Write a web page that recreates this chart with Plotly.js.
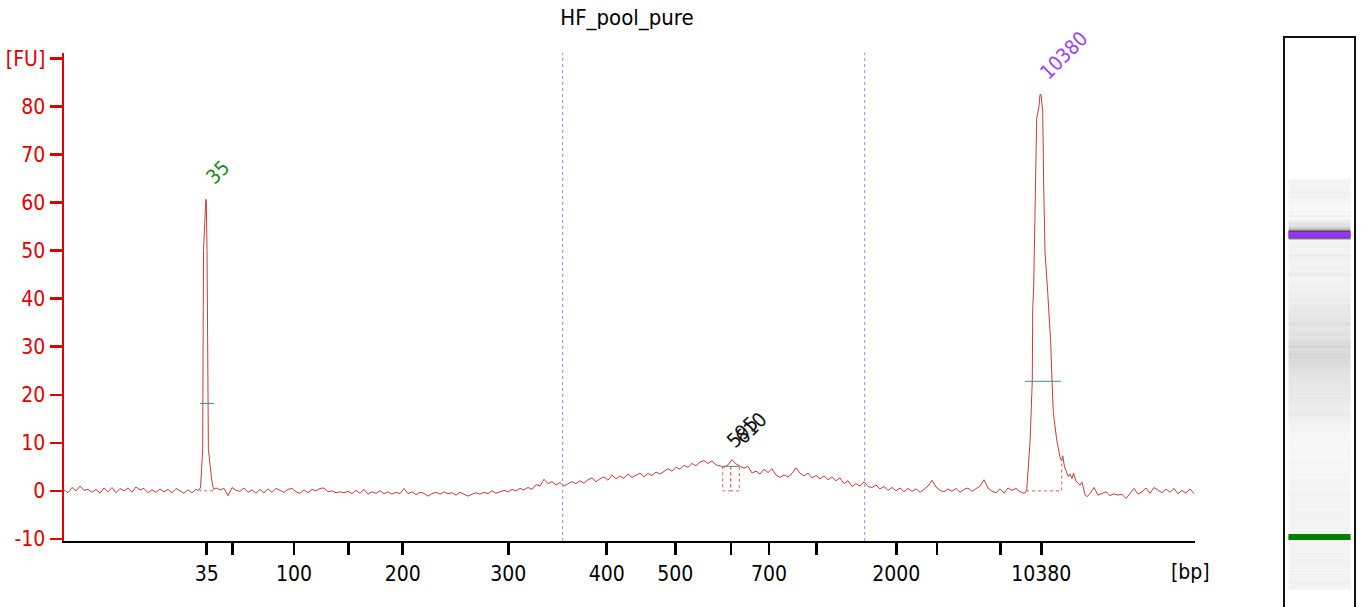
<!DOCTYPE html>
<html><head><meta charset="utf-8">
<script src="https://cdn.plot.ly/plotly-3.0.1.min.js"></script>
<style>html,body{margin:0;padding:0;background:#fff}#chart{width:1361px;height:607px}</style>
</head><body><div id="chart"></div>
<script>
const chartTitle = 'HF_pool_pure';
// migration position axis (arbitrary units over the run); bp labels at the ladder positions
const tickPositions = [142.7,168.3,230,284.7,338.7,444.3,542.7,611.3,667,705,752.7,832.3,873,936.7,977.3];
const tickLabels = ['35','','100','','200','300','400','500','','700','','2000','','','10380'];
const yTickValues = [-10,0,10,20,30,40,50,60,70,80,90];
const yTickLabels = ['-10','0','10','20','30','40','50','60','70','80','[FU]'];

const sampleStep = 4;
const baselineAStart = 0;
const baselineA = [
 0.2,-0.4,0.7,0.0,1.0,0.1,0.3,-0.3,0.3,-0.5,
 0.6,-0.2,0.7,-0.4,0.5,0.0,0.6,-0.3,0.8,0.2,
 0.5,-0.4,0.2,-0.3,0.4,-0.2,0.3,-0.4,0.5,0.0,
 -0.5,0.2,-0.4,0.3];
const peak35Pos = [134,136.5,138.7,138.9,139.5,141.8,142.3,143,144.3,144.4,147.7,148.5,149.5];
const peak35Val = [0.1,0.6,8.6,20,50,60.7,60.3,50,20,8.6,2.3,0.8,0.3];
const baselineBStart = 152;
const baselineB = [
 0.6,0.2,0.5,-1.0,0.7,0.1,-0.1,0.6,-0.3,0.2,
 -0.5,0.3,-0.4,0.4,-0.3,0.5,0.1,-0.3,0.3,0.5,
 -0.2,-0.5,0.2,-0.4,0.3,0.0,0.5,0.6,-0.2,0.0,
 -0.4,-0.2,-0.4,-0.1,-0.6,0.1,-0.5,0.3,-0.7,-0.2,
 -0.5,0.0,-0.6,-0.2,-0.7,-0.3,-0.6,0.5,-0.6,-0.2,
 -0.8,-0.3,-0.5,-1.1,-0.6,-0.3,-0.7,-0.2,-0.6,-0.4,
 -0.9,-0.3,-0.7,-1.1,-0.7,-0.4,-0.7,-0.3,-0.6,0.0,
 -0.5,-0.2,0.1,-0.2,0.3,0.0,0.5,0.2,0.7,0.3,
 1.3,1.0,2.4,1.5,1.9,1.2,1.7,1.0,1.5,1.9,
 1.5,2.1,1.6,2.3,2.7,1.9,2.5,2.9,2.2,3.3,
 2.5,3.1,2.6,3.5,2.8,3.2,3.7,2.9,3.6,3.2,
 3.9,3.5,4.1,4.6,4.1,4.9,4.5,5.3,4.9,5.7,
 5.2,6.0,6.3,5.7,6.2,5.4,5.2,4.9,5.4,6.5,
 5.6,5.2,4.7,5.1,3.7,4.1,3.5,4.5,3.8,4.6,
 3.3,2.8,3.3,2.9,3.6,4.8,3.7,3.1,3.7,2.7,
 3.2,2.5,3.1,2.3,2.9,2.1,2.7,1.5,2.1,0.9,
 1.5,1.0,1.9,0.9,0.7,1.2,0.4,0.9,0.1,0.7,
 0.0,0.6,-0.2,0.5,-0.1,0.4,-0.3,0.3,1.0,2.2,
 0.8,0.1,-0.2,0.4,-0.1,0.5,-0.3,0.3,0.6,-0.1,
 0.4,1.0,2.3,0.6,-0.1,-0.4,0.4,-0.5,0.6,0.1,
 0.5,-0.2,-0.5];
const peak10380Pos = [961,962.7,963.7,966,968.3,968.7,969.7,971.7,972.7,975,976,977,978.7,979.7,981,983.7,986.7,987.7,989.3,992.7,996,997.7,998.7,1000.5,1004.3,1006,1008,1009.5,1012,1016,1018,1021,1023];
const peak10380Val = [-0.4,0.2,3,10,23,37.8,42.7,69,77.5,80,82.5,82.5,79,63.5,49.7,41.3,30.9,24.6,16.3,10.6,7,6.2,7.3,5,3,3.5,2.6,3.7,2.0,1.2,1.8,-0.8,-1.2];
const baselineCStart = 1026;
const baselineC = [
 -0.6,0.7,-0.9,-0.6,-0.2,-1.0,-0.6,-0.9,-0.7,-1.6,
 -0.5,0.5,-0.7,-0.2,0.6,-0.5,0.7,0.2,-0.4,0.4,
 -0.3,0.5,-0.6,0.1,-0.5,0.4,-0.6];

const peakLabels = ['35','595','610','10380'];
const peakPositions = [142.3,663,672,976.5];
const peakHeights = [60.7,5.8,6.5,82.5];
const peakColors = ['#1b8a1b','#111111','#111111','#9b40f5'];
const windowStart = [136,658.7,666.7,963];
const windowEnd = [149,666.7,675.3,997.7];
const windowStartTop = [0.4,5.1,5.1,0.2];
const windowEndTop = [0.4,5.1,5.1,6.2];
const halfStart = [136,659,961];
const halfEnd = [150,675,997];
const halfLevel = [18.2,5.1,22.8];
const regionBounds = [498.7,800.7];
const gelBandPositions = [142.7,977.3];
const gelBandColors = ['#008000','#9b30ff'];

// assemble signal
const sigX = [], sigY = [];
function addGrid(start, vals){ vals.forEach((v,i)=>{ sigX.push(start + i*sampleStep); sigY.push(v); }); }
function addPts(xs, ys){ xs.forEach((x,i)=>{ sigX.push(x); sigY.push(ys[i]); }); }
addGrid(baselineAStart, baselineA);
addPts(peak35Pos, peak35Val);
addGrid(baselineBStart, baselineB);
addPts(peak10380Pos, peak10380Val);
addGrid(baselineCStart, baselineC);

const traces = [];
traces.push({x: sigX, y: sigY, type:'scatter', mode:'lines', line:{color:'#c43c3c', width:1}, hoverinfo:'skip', xaxis:'x', yaxis:'y'});

const hx=[], hy=[];
halfStart.forEach((s,i)=>{ hx.push(s, halfEnd[i], null); hy.push(halfLevel[i], halfLevel[i], null); });
traces.push({x:hx, y:hy, type:'scatter', mode:'lines', line:{color:'#3f8f7f', width:1}, hoverinfo:'skip', xaxis:'x', yaxis:'y'});

const wx=[], wy=[];
windowStart.forEach((s,i)=>{ wx.push(s, s, windowEnd[i], windowEnd[i], null); wy.push(windowStartTop[i], 0, 0, windowEndTop[i], null); });
traces.push({x:wx, y:wy, type:'scatter', mode:'lines', line:{color:'#e05a5a', width:1, dash:'dot'}, hoverinfo:'skip', xaxis:'x', yaxis:'y'});

// gel lane rendered from the same signal
traces.push({type:'heatmap', x:[0], y:sigX, z:sigY.map(v=>[v]), zmin:-2, zmax:30, zsmooth:false, showscale:false, hoverinfo:'skip',
  colorscale:[[0,'#fdfdfd'],[0.0625,'#f4f4f4'],[0.25,'#d8d8d8'],[0.5,'#9a9a9a'],[1,'#404040']], xaxis:'x2', yaxis:'y2'});
gelBandPositions.forEach((p,i)=>{
  traces.push({x:[-0.5,0.5], y:[p,p], type:'scatter', mode:'lines', line:{color:gelBandColors[i], width:6}, hoverinfo:'skip', xaxis:'x2', yaxis:'y2'});
});

const annotations = peakLabels.map((t,i)=>({
  x: peakPositions[i], y: peakHeights[i], xref:'x', yref:'y', text:t, showarrow:false,
  textangle:-45, xanchor:'left', yanchor:'bottom', xshift:-8, yshift:8,
  font:{size:20, color:peakColors[i]}
}));
annotations.push({x:0.9956, xref:'x domain', y:0, yref:'y domain', yshift:-31, text:'[bp]', showarrow:false,
  xanchor:'center', yanchor:'middle', font:{size:21, color:'#000'}});

const shapes = regionBounds.map(b=>({type:'line', xref:'x', x0:b, x1:b, yref:'y domain', y0:0, y1:1,
  line:{color:'#8d8de8', width:1, dash:'dot'}}));
shapes.push({type:'rect', xref:'x2 domain', x0:0, x1:1, yref:'paper', y0:-0.05, y1:1, line:{color:'#111', width:2}, fillcolor:'rgba(0,0,0,0)'});

const layout = {
  width:1361, height:607,
  margin:{l:64, r:6, t:37, b:0},
  paper_bgcolor:'#fff', plot_bgcolor:'#fff',
  showlegend:false,
  font:{family:'DejaVu Sans Condensed, DejaVu Sans, sans-serif', color:'#000'},
  title:{text:chartTitle, font:{size:22, color:'#000'}, x:627/1361, xref:'container', xanchor:'center', y:1-17/607, yref:'container', yanchor:'middle'},
  xaxis:{domain:[0,0.87607], range:[0,1131], tickmode:'array', tickvals:tickPositions, ticktext:tickLabels, ticks:'outside', ticklen:12, tickwidth:2.5,
    tickcolor:'#000', showline:true, linecolor:'#000', linewidth:2.5, showgrid:false, zeroline:false, tickangle:0,
    tickfont:{size:21, color:'#000'}, anchor:'y', fixedrange:true},
  yaxis:{domain:[0.11579,0.97246], range:[-10.44,91.2], tickmode:'array', tickvals:yTickValues, ticktext:yTickLabels, ticks:'outside', ticklen:12, tickwidth:2.5,
    tickcolor:'#e00000', showline:true, linecolor:'#e00000', linewidth:2.5, showgrid:false, zeroline:false,
    tickfont:{size:21, color:'#e00000'}, anchor:'x', fixedrange:true},
  xaxis2:{domain:[0.945,1], range:[-0.573,0.573], visible:false, anchor:'y2', fixedrange:true},
  yaxis2:{domain:[0,1], range:[-50.7,1523.9], visible:false, anchor:'x2', fixedrange:true},
  annotations, shapes
};
Plotly.newPlot('chart', traces, layout, {staticPlot:true});
</script></body></html>
